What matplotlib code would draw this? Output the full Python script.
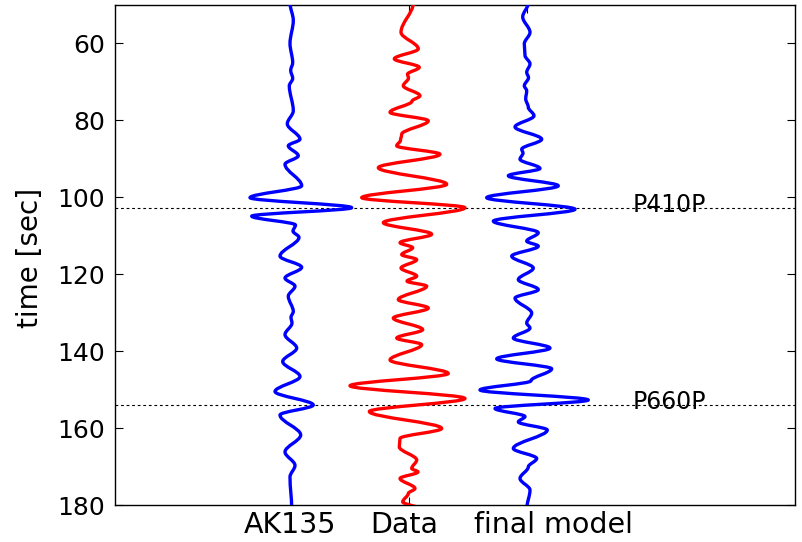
import matplotlib
matplotlib.use("Agg")
import matplotlib.pyplot as plt
from matplotlib.path import Path
from matplotlib.patches import PathPatch

# Trace names and their horizontal slots
trace_names = ["AK135", "Data", "final model"]
trace_slots = [1, 2, 3]

# Turning points of each seismogram: arrival time [sec] and amplitude
ak135_t = [49.5, 54.0, 60.0, 65.0, 67.0, 69.1, 71.0, 77.5, 80.9, 84.9,
           86.6, 89.2, 91.4, 97.0, 100.1, 102.7, 104.9, 107.2, 108.8, 110.4,
           115.3, 118.2, 121.0, 123.1, 125.7, 129.7, 131.2, 132.7, 135.7, 139.2,
           142.7, 146.6, 150.5, 154.0, 156.6, 161.8, 166.2, 169.7, 172.7, 181.0]
ak135_a = [-1.5, 1.8, -1.5, 1.2, -0.8, 1.2, -2.2, 1.8, -4.2, 8.5,
           -3.2, 6.8, -6.5, 10.2, -41.5, 60.2, -39.8, 4.0, 1.5, 7.5,
           -11.5, 10.2, -6.5, 3.5, -3.2, 1.8, -0.5, 0.5, -6.5, 5.2,
           -8.8, 8.5, -16.5, 21.8, -11.5, 9.2, -6.5, 3.5, -1.5, 0.2]

data_t = [49.5, 57.1, 61.4, 64.0, 66.2, 68.0, 69.0, 71.0, 73.6, 75.0,
          77.9, 80.1, 83.6, 85.2, 86.6, 88.8, 92.3, 96.6, 100.1, 102.7,
          106.6, 109.6, 111.8, 113.1, 114.9, 116.2, 118.4, 120.5, 121.8, 123.1,
          126.6, 128.8, 131.4, 134.4, 136.6, 138.3, 142.3, 145.8, 149.0, 152.3,
          155.7, 160.1, 162.7, 164.9, 168.3, 170.5, 171.4, 173.1, 175.7, 177.0,
          179.2, 181.0]
data_a = [4.3, -8.0, 9.3, -14.7, 10.3, -1.5, -0.5, -5.7, 11.0, 3.0,
          -19.0, 19.3, -7.3, -8.5, -12.3, 31.0, -30.7, 37.7, -47.3, 56.0,
          -25.7, 22.7, -9.0, 3.7, -7.3, 7.7, -8.0, 7.7, -2.0, 17.7,
          -10.7, 19.3, -15.7, 13.7, -12.3, 12.7, -19.0, 39.3, -59.0, 56.0,
          -39.7, 32.7, -9.0, -9.7, 7.7, 2.7, 9.0, -9.0, 6.0, -0.7,
          -6.3, 11.0]

final_t = [49.5, 53.1, 57.1, 60.1, 63.1, 65.3, 67.5, 68.9, 71.0, 72.3,
           74.4, 76.6, 78.8, 81.7, 84.9, 87.5, 88.5, 90.1, 92.5, 94.4,
           97.0, 100.1, 103.1, 106.2, 109.2, 111.4, 112.7, 115.3, 118.4, 121.4,
           124.0, 126.2, 130.1, 132.7, 134.0, 136.6, 139.2, 142.0, 144.6, 147.7,
           150.1, 152.7, 154.9, 157.0, 158.4, 160.5, 165.3, 167.9, 170.1, 173.1,
           176.1, 181.0]
final_a = [1.8, -3.8, 3.5, -2.2, -1.5, 3.5, 0.2, 2.0, -2.2, 0.2,
           -0.8, 1.8, 7.5, -11.5, 15.2, -4.8, -3.5, -6.5, 13.5, -18.2,
           31.8, -39.8, 48.5, -33.2, 11.8, 0.2, 11.8, -14.8, 6.8, -8.2,
           11.8, -11.5, 5.2, 0.2, 3.5, -13.2, 23.5, -29.8, 25.2, 4.5,
           -46.5, 61.8, -31.5, -1.5, -8.2, 20.8, -13.2, 10.2, 1.8, -6.5,
           3.5, 0.2]

# Phase picks
phase_names = ["P410P", "P660P"]
phase_times = [102.7, 153.9]

time_ticks = [60, 80, 100, 120, 140, 160, 180]

GAIN = 1.0 / 117.5


def trace_path(slot, times, amps):
    """Smooth wiggle through the turning points using cubic Bezier segments."""
    verts = [(slot + amps[0] * GAIN, times[0])]
    codes = [Path.MOVETO]
    for i in range(1, len(times)):
        t0, t1 = times[i - 1], times[i]
        x0 = slot + amps[i - 1] * GAIN
        x1 = slot + amps[i] * GAIN
        dt = t1 - t0
        verts += [(x0, t0 + dt / 3.0), (x1, t1 - dt / 3.0), (x1, t1)]
        codes += [Path.CURVE4] * 3
    return Path(verts, codes)


fig = plt.figure(figsize=(8.02, 5.42), dpi=100)
ax = fig.add_axes([115 / 802, 37 / 542, 680 / 802, 500 / 542])

traces = [(ak135_t, ak135_a, "blue"),
          (data_t, data_a, "red"),
          (final_t, final_a, "blue")]
for slot, (tt, aa, col) in zip(trace_slots, traces):
    patch = PathPatch(trace_path(slot, tt, aa), facecolor="none",
                      edgecolor=col, lw=2.4, capstyle="round",
                      joinstyle="round", zorder=3)
    ax.add_patch(patch)

for name, tp in zip(phase_names, phase_times):
    ax.axhline(tp, color="black", lw=0.8, dashes=(2.5, 2.5), zorder=2)
    ax.text(3.906, tp - 0.8, name, fontsize=17, va="center", ha="left",
            zorder=4)

ax.set_xlim(-0.502, 5.285)
ax.set_ylim(180, 50)

ax.set_yticks(time_ticks)
ax.set_yticklabels([str(v) for v in time_ticks], fontsize=18)
ax.set_xticks(trace_slots)
ax.set_xticklabels([])
ax.tick_params(direction="in", length=5.5, width=0.8, top=True, right=True,
               pad=7)

label_x = [0.987, 1.957, 3.225]
for lx, name in zip(label_x, trace_names):
    ax.annotate(name, xy=(lx, 0), xycoords=("data", "axes fraction"),
                xytext=(0, -4), textcoords="offset points",
                ha="center", va="top", fontsize=20.5)

fig.text(30 / 802, 1 - 258 / 542, "time [sec]", rotation=90,
         ha="center", va="center", fontsize=20)

for sp in ax.spines.values():
    sp.set_linewidth(1.0)

fig.savefig("out.png", dpi=100)
